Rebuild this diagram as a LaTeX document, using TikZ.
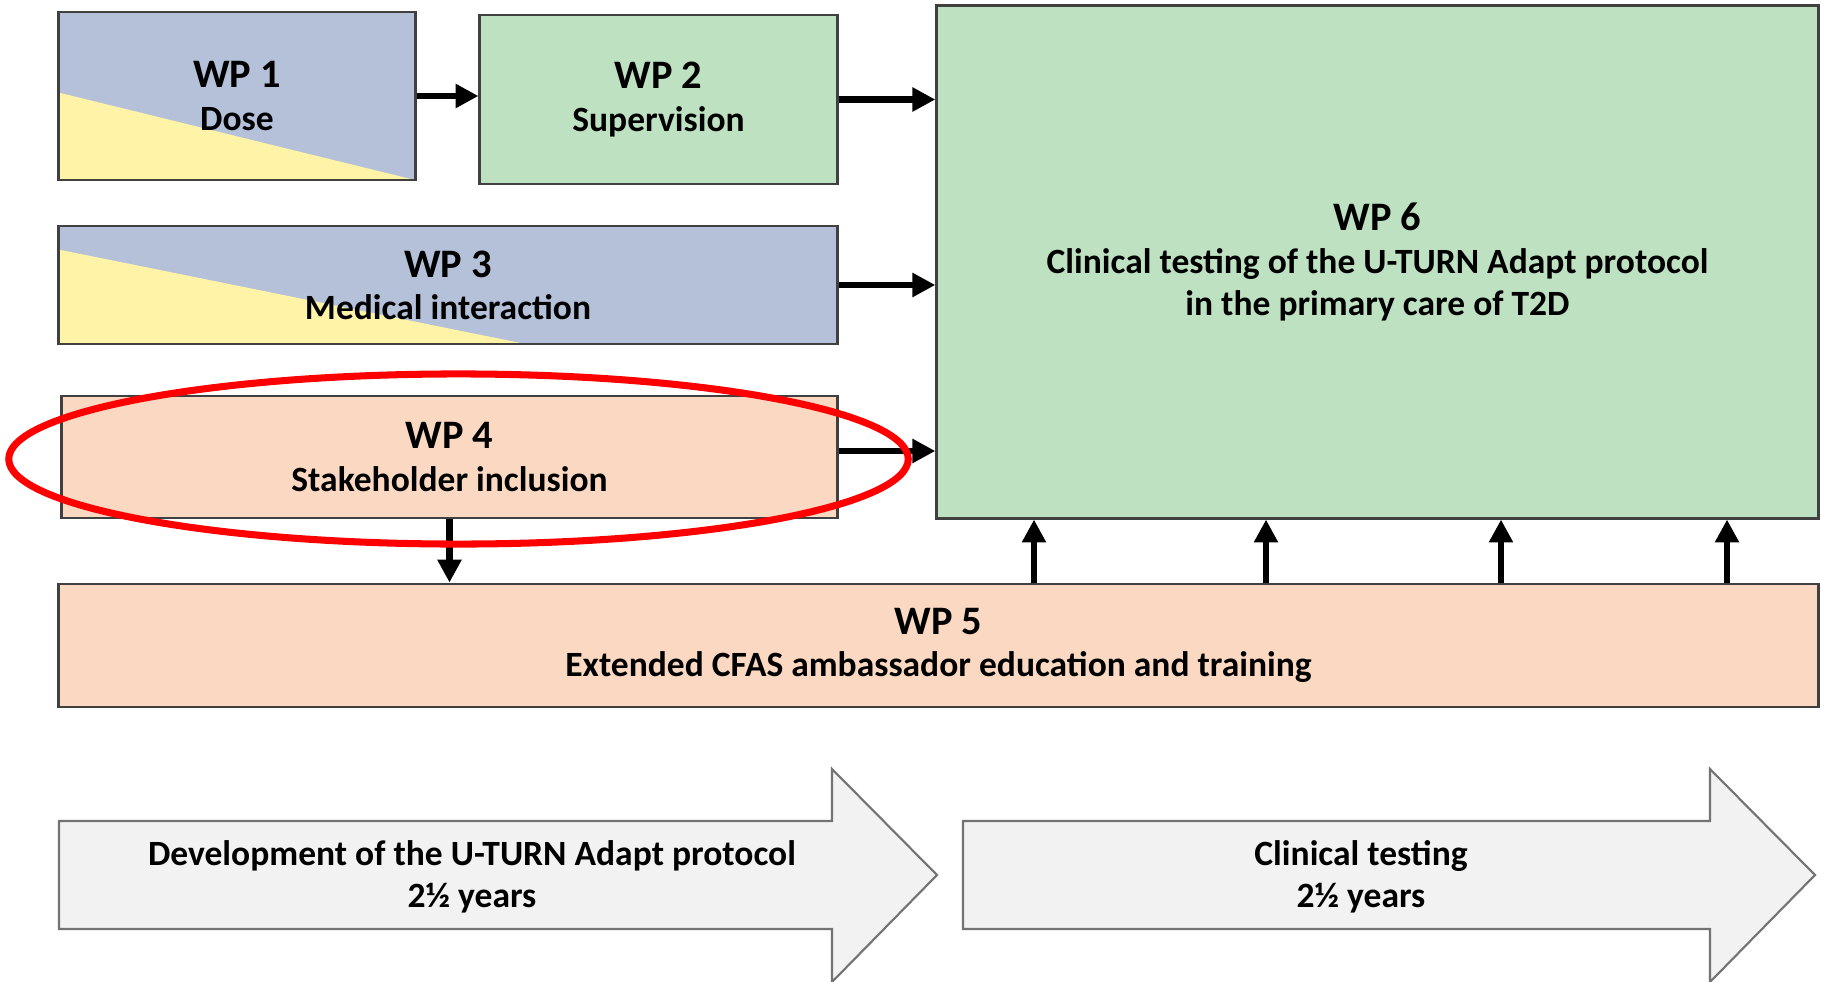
\documentclass[tikz,border=0pt]{standalone}
\usepackage{fontspec}
\setmainfont{Carlito}
\usetikzlibrary{arrows.meta,calc,shapes.geometric}

\definecolor{wpblue}{RGB}{180,193,217}
\definecolor{wpyellow}{RGB}{255,243,168}
\definecolor{wpgreen}{RGB}{190,225,194}
\definecolor{wppeach}{RGB}{250,216,194}
\definecolor{phasegray}{RGB}{242,242,242}

\newcommand{\wphead}{\fontsize{11.5}{13.5}\selectfont}
\newcommand{\wpsub}{\fontsize{10.1}{13.2}\selectfont}

\begin{document}
\begin{tikzpicture}[x=0.01cm,y=-0.01cm,->,>={Triangle[length=6.5pt,width=6.5pt]},line width=1.9pt,
  wp box/.style={draw=black!75,line width=0.8pt,align=center,inner sep=0pt,font=\bfseries},
  wedge/.style 2 args={path picture={\fill[wpyellow]
    ($(path picture bounding box.north west)!#1!(path picture bounding box.south west)$)
    -- (path picture bounding box.south west)
    -- ($(path picture bounding box.south west)!#2!(path picture bounding box.south east)$) -- cycle;}},
  phase/.style={draw=black!55,line width=0.6pt,fill=phasegray,-},
  phase text/.style={align=center,font=\bfseries}]
  \useasboundingbox (0,0) rectangle (1821,982);

  \node[wp box,fill=wpblue,wedge={0.48}{1},minimum width=3.56cm,minimum height=1.68cm] (wp1) at (237,96) {{\wphead WP 1}\\{\wpsub Dose}};
  \node[wp box,fill=wpgreen,minimum width=3.57cm,minimum height=1.69cm] (wp2) at (658.5,99.5) {{\wphead WP 2}\\{\wpsub Supervision}};
  \node[wp box,fill=wpblue,wedge={0.2}{0.6},minimum width=7.78cm,minimum height=1.18cm] (wp3) at (448,285) {{\wphead WP 3}\\{\wpsub Medical interaction}};
  \node[wp box,fill=wppeach,minimum width=7.75cm,minimum height=1.22cm] (wp4) at (449.5,457) {{\wphead WP 4}\\{\wpsub Stakeholder inclusion}};
  \node[wp box,fill=wppeach,minimum width=17.59cm,minimum height=1.23cm] (wp5) at (938.5,645.5) {{\wphead WP 5}\\{\wpsub Extended CFAS ambassador education and training}};
  \node[wp box,fill=wpgreen,minimum width=8.81cm,minimum height=5.12cm] (wp6) at (1377.5,262) {{\wphead WP 6}\\{\wpsub Clinical testing of the U-TURN Adapt protocol}\\{\wpsub in the primary care of T2D}};

  % links between work packages
  \draw (wp1.east) -- (wp1.east -| wp2.west);
  \draw (wp2.east) -- (wp2.east -| wp6.west);
  \draw (wp3.east) -- (wp3.east -| wp6.west);
  \draw ([yshift=0.06cm]wp4.east) -- ([yshift=0.06cm]wp4.east -| wp6.west);
  \draw (wp4.south) -- (wp4.south |- wp5.north);
  \foreach \x in {1034,1266,1501,1727}
    \draw (wp5.north -| \x,0) -- (wp6.south -| \x,0);

  % highlight
  \node[ellipse,draw=red,line width=2pt,minimum width=8.99cm,minimum height=1.7cm] (focus) at (458.5,459) {};

  % time line
  \draw[phase] (59,821) -- (832,821) -- (832,769) -- (937,875) -- (832,982) -- (832,929) -- (59,929) -- cycle;
  \draw[phase] (963,821) -- (1710,821) -- (1710,769) -- (1815,875) -- (1710,982) -- (1710,929) -- (963,929) -- cycle;
  \node[phase text] (dev) at (472,877) {{\wpsub Development of the U-TURN Adapt protocol}\\{\wpsub 2½ years}};
  \node[phase text] (test) at (1361,877) {{\wpsub Clinical testing}\\{\wpsub 2½ years}};
\end{tikzpicture}
\end{document}
